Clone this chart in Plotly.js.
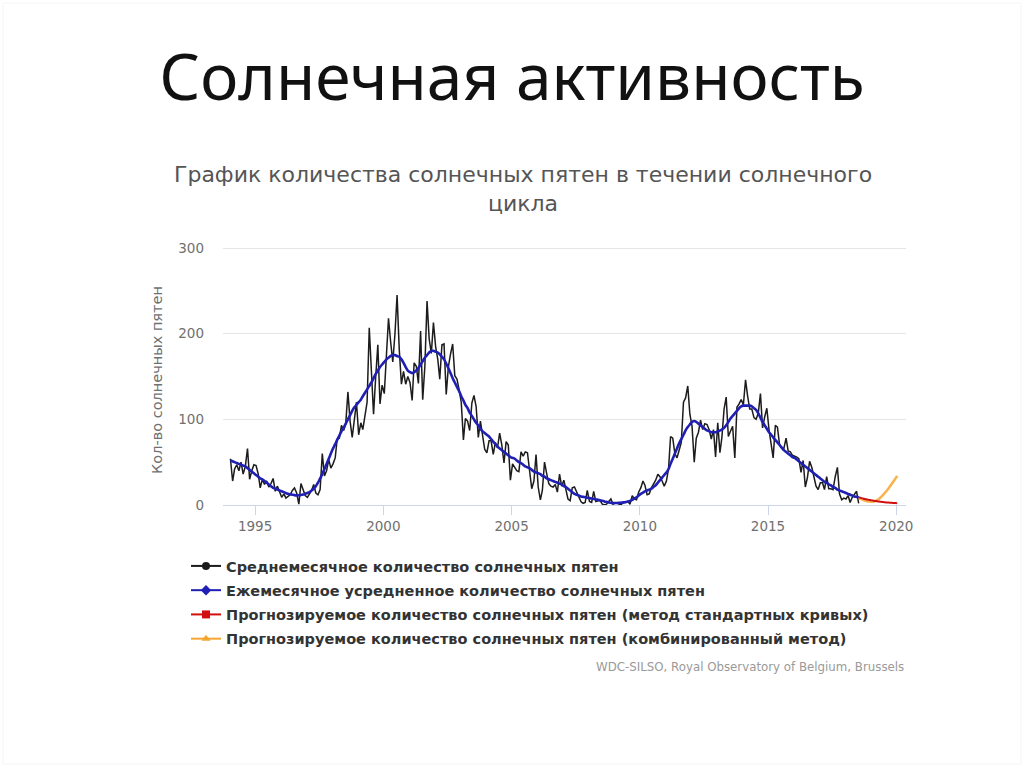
<!DOCTYPE html>
<html><head><meta charset="utf-8">
<script src="https://cdn.plot.ly/plotly-3.0.1.min.js"></script>
<style>html,body{margin:0;padding:0;background:#fff;}#chart{width:1024px;height:767px;}</style>
</head><body><div id="chart"></div>
<script>
// ---- DATA ----
const seriesStart = [1994, 1];           // first month of observed series
const monthlySN = [
  54, 28, 42, 47, 40, 50, 36, 45, 66, 30, 40, 47,            // 1994
  46, 36, 20, 30, 24, 28, 21, 25, 31, 16, 22, 15,            // 1995
  9, 13, 8, 10, 12, 17, 20, 14, 1, 25, 19, 11,               // 1996
  9, 13, 17, 24, 14, 12, 18, 60, 34, 40, 53, 43,             // 1997
  48, 55, 77, 78, 93, 87, 95, 132, 98, 79, 100, 120,         // 1998
  82, 96, 88, 105, 120, 207, 150, 106, 150, 187, 118, 140,   // 1999
  130, 170, 218, 190, 167, 200, 245, 182, 141, 156, 141, 150,// 2000
  143, 122, 166, 162, 142, 203, 123, 162, 238, 194, 177, 213,// 2001
  185, 170, 147, 187, 188, 129, 161, 176, 188, 151, 147, 135,// 2002
  120, 76, 101, 98, 87, 119, 128, 115, 79, 98, 83, 65,       // 2003
  61, 75, 75, 59, 73, 67, 84, 70, 49, 74, 70, 29,            // 2004
  48, 44, 40, 39, 62, 57, 62, 61, 37, 19, 28, 59,            // 2005
  21, 6, 17, 50, 37, 25, 22, 21, 24, 15, 36, 22,             // 2006
  29, 18, 7, 5, 20, 21, 15, 10, 4, 2, 3, 17,                 // 2007
  4, 3, 16, 4, 5, 5, 1, 0.3, 1, 4, 7, 1,                     // 2008
  2, 2, 1, 1, 3, 3, 4, 1, 11, 7, 6, 15,                      // 2009
  20, 28, 23, 12, 13, 20, 24, 29, 36, 33, 28, 22,            // 2010
  28, 43, 80, 78, 60, 55, 64, 73, 120, 125, 139, 106,        // 2011
  92, 50, 78, 85, 99, 88, 95, 94, 88, 77, 88, 56,            // 2012
  96, 61, 79, 112, 126, 80, 86, 92, 55, 114, 118, 123,       // 2013
  117, 146, 128, 112, 112, 102, 100, 107, 130, 90, 103, 113, // 2014
  88, 67, 55, 93, 91, 70, 67, 66, 78, 63, 62, 58,            // 2015
  57, 56, 54, 38, 52, 21, 32, 51, 44, 33, 22, 18,            // 2016
  26, 26, 18, 33, 19, 19, 18, 33, 44, 13, 6, 8,              // 2017
  7, 11, 3, 9, 13, 16, 2                                     // 2018
];
const smoothedSN = [
  52, 51, 50, 49, 48, 47, 46, 45, 43, 41, 39, 37,            // 1994
  35, 33, 31, 30, 28, 26, 24, 22, 20, 19, 18, 17,            // 1995
  16, 15, 14, 13, 12.5, 12, 11.5, 11.2, 11.3, 11.6, 12.2, 13,// 1996
  14, 15, 17, 19, 22, 26, 31, 36, 42, 48, 54, 60,            // 1997
  66, 71, 76, 81, 86, 90, 95, 100, 105, 110, 114, 117,       // 1998
  120, 123, 127, 131, 135, 139, 143, 148, 153, 157, 161, 164,// 1999
  167, 170, 172, 174, 175, 175, 174, 173, 170, 166, 161, 157,// 2000
  155, 154, 155, 157, 160, 164, 168, 172, 175, 178, 180, 180,// 2001
  179, 178, 176, 173, 170, 165, 160, 154, 148, 143, 138, 133,// 2002
  127, 122, 117, 113, 108, 104, 100, 96, 93, 89, 86, 84,     // 2003
  82, 80, 77, 74, 71, 68, 66, 64, 62, 60, 58, 56,            // 2004
  55, 54, 52, 50, 49, 47, 45, 44, 43, 41, 39, 38,            // 2005
  37, 36, 34, 33, 31, 30, 29, 28, 27, 26, 25, 24,            // 2006
  22, 21, 19, 17, 15, 13, 12, 11, 10, 9.5, 9, 8.5,           // 2007
  8, 7.5, 7, 6.5, 6, 5.5, 5, 4.2, 3.6, 3, 2.6, 2.2,          // 2008
  2.3, 2.4, 2.6, 2.8, 3.1, 3.5, 4, 4.8, 6, 7.5, 9, 11,       // 2009
  13, 14.5, 16, 17, 18, 19, 21, 23, 26, 29, 32, 35,          // 2010
  38, 42, 48, 54, 60, 66, 72, 77, 82, 87, 91, 94,            // 2011
  97, 98, 97, 95, 93, 91, 89, 87, 86, 85, 85, 85,            // 2012
  86, 87, 88, 90, 93, 97, 101, 104, 107, 110, 113, 115,      // 2013
  116, 116, 116, 116, 115, 113, 111, 107, 102, 97, 93, 89,   // 2014
  85, 82, 79, 76, 73, 70, 67, 64, 62, 60, 58, 56,            // 2015
  55, 53, 51, 49, 47, 45, 43, 41, 39, 37, 35, 33,            // 2016
  31, 29, 27, 26, 24, 23, 21, 20, 18, 17, 16, 15,            // 2017
  14, 13, 12, 11, 10, 9.5, 9                                 // 2018
];
const forecastStart = [2018, 7];
const forecastStandard = [9, 8.3, 7.6, 7, 6.4, 5.9, 5.4, 5, 4.6, 4.2, 3.9, 3.6, 3.3, 3.0, 2.8, 2.6, 2.4, 2.2, 2.1];
const forecastCombined = [8, 7, 6, 5, 4.4, 4, 3.8, 4, 4.8, 6.2, 8.2, 10.6, 13.4, 16.4, 19.6, 23, 26.6, 30.2, 34];
const xTickYears = [1995, 2000, 2005, 2010, 2015, 2020];
const yTickValues = [0, 100, 200, 300];
const seriesNames = [
  'Среднемесячное количество солнечных пятен',
  'Ежемесячное усредненное количество солнечных пятен',
  'Прогнозируемое количество солнечных пятен (метод стандартных кривых)',
  'Прогнозируемое количество солнечных пятен (комбинированный метод)'
];
const slideTitle = 'Солнечная активность';
const chartTitle = 'График количества солнечных пятен в течении солнечного<br>цикла';
const yAxisTitle = 'Кол-во солнечных пятен';
const creditText = 'WDC-SILSO, Royal Observatory of Belgium, Brussels';

// ---- HELPERS ----
function monthDates(start, n) {
  const out = [];
  for (let i = 0; i < n; i++) {
    const t = (start[1] - 1) + i;
    const y = start[0] + Math.floor(t / 12);
    const m = (t % 12) + 1;
    out.push(y + '-' + String(m).padStart(2, '0') + '-15');
  }
  return out;
}
// plot-area geometry in pixels (y range padded by 1.2 above 300 so its grid line shows)
const yTop = 301.2;
const L = 223, R = 906, B = 505;
const T = Math.round(B - (B - 248) * yTop / 300);
const px2x = p => (p - L) / (R - L);
const py2y = p => (B - p) / (B - T);

const colors = ['#1c1c1c', '#1f1fb4', '#d10f0f', '#f5a630'];
const symbols = ['circle', 'diamond', 'square', 'triangle-up'];

const obsDates = monthDates(seriesStart, monthlySN.length);
const smDates = monthDates(seriesStart, smoothedSN.length);
const fcDates = monthDates(forecastStart, forecastStandard.length);

const traces = [
  {x: obsDates, y: monthlySN, mode: 'lines', line: {color: colors[0], width: 1.5}, showlegend: false},
  {x: fcDates, y: forecastCombined, mode: 'lines', line: {color: colors[3], width: 2.6, shape: 'spline'}, opacity: 0.85, showlegend: false},
  {x: fcDates, y: forecastStandard, mode: 'lines', line: {color: colors[2], width: 2, shape: 'spline'}, showlegend: false},
  {x: smDates, y: smoothedSN, mode: 'lines', line: {color: colors[1], width: 2.6, shape: 'spline', smoothing: 0.6}, showlegend: false}
];
// legend entries
seriesNames.forEach((nm, i) => {
  traces.push({x: [null], y: [null], mode: 'lines+markers', name: nm, legendgroup: 'g' + i,
    line: {color: colors[i], width: 2}, marker: {color: colors[i], symbol: symbols[i], size: 8}});
});

const layout = {
  width: 1024, height: 767,
  paper_bgcolor: '#ffffff', plot_bgcolor: '#ffffff',
  margin: {l: L, r: 1024 - R, t: T, b: 767 - B, pad: 0},
  title: {text: slideTitle, x: 0.5, xref: 'container', xanchor: 'center',
          y: 1 - 78 / 767, yref: 'container', yanchor: 'middle',
          font: {family: 'Noto Sans, Open Sans, sans-serif', size: 64, color: '#111111', weight: 400}},
  xaxis: {
    type: 'date',
    range: ['1993-10-01', '2020-05-19'],
    tickvals: xTickYears.map(y => y + '-01-01'),
    ticktext: xTickYears.map(String),
    showgrid: false, zeroline: false,
    showline: true, linecolor: '#ccd6eb', linewidth: 1,
    ticks: 'outside', ticklen: 9, tickcolor: '#ccd6eb', tickwidth: 1,
    tickfont: {family: 'DejaVu Sans, sans-serif', size: 13.5, color: '#707070'}
  },
  yaxis: {
    range: [0, yTop],
    tickvals: yTickValues,
    showgrid: true, gridcolor: '#e6e6e6', gridwidth: 1,
    zeroline: false, showline: false, ticks: '',
    ticklabelstandoff: 18,
    tickfont: {family: 'DejaVu Sans, sans-serif', size: 13.5, color: '#707070'}
  },
  legend: {
    orientation: 'v', x: px2x(186), y: py2y(550), xanchor: 'left', yanchor: 'top',
    xref: 'paper', yref: 'paper',
    font: {family: 'DejaVu Sans, sans-serif', size: 14.5, color: '#333333', weight: 'bold'},
    itemwidth: 30, tracegroupgap: 2.4, traceorder: 'grouped', bgcolor: 'rgba(0,0,0,0)'
  },
  annotations: [
    {text: chartTitle, xref: 'paper', yref: 'paper', x: px2x(522.5), y: py2y(189),
     xanchor: 'center', yanchor: 'middle', showarrow: false, align: 'center',
     font: {family: 'DejaVu Sans, sans-serif', size: 22, color: '#555555'}},
    {text: yAxisTitle, xref: 'paper', yref: 'paper', x: px2x(157), y: py2y(380),
     xanchor: 'center', yanchor: 'middle', showarrow: false, textangle: -90,
     font: {family: 'DejaVu Sans, sans-serif', size: 14.5, color: '#707070'}},
    {text: creditText, xref: 'paper', yref: 'paper', x: px2x(906), y: py2y(667),
     xanchor: 'right', yanchor: 'middle', showarrow: false,
     font: {family: 'DejaVu Sans, sans-serif', size: 11.8, color: '#9a9a9a'}}
  ],
  shapes: [
    {type: 'rect', xref: 'paper', yref: 'paper', x0: px2x(3), x1: px2x(1021), y0: py2y(764), y1: py2y(3),
     line: {color: '#f5f5f5', width: 1}, fillcolor: 'rgba(0,0,0,0)', layer: 'below'}
  ],
  hovermode: false
};

Plotly.newPlot('chart', traces, layout, {displayModeBar: false, staticPlot: true});
</script>
</body></html>
